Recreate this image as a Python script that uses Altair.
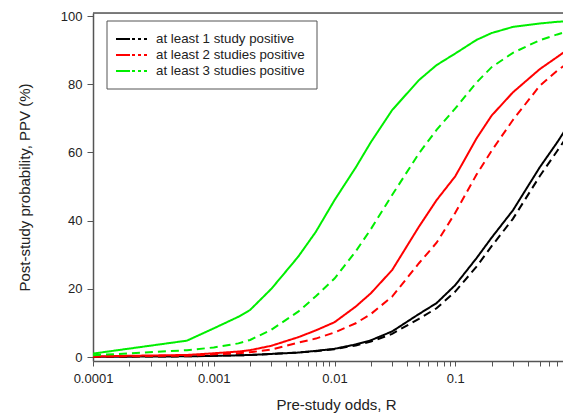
import altair as alt
import pandas as pd

# Pre-study odds (x) shared by all curves
R = [0.0001, 0.0006, 0.001, 0.0016, 0.002, 0.003, 0.005, 0.007, 0.01, 0.015,
     0.02, 0.03, 0.05, 0.07, 0.1, 0.15, 0.2, 0.3, 0.5, 0.7, 0.92]

# PPV (%)
one_solid = [0.05, 0.2, 0.35, 0.5, 0.6, 0.9, 1.3, 1.8, 2.4, 3.7,
             4.9, 7.5, 12.6, 15.8, 21.1, 29.0, 35.0, 43.0, 55.6, 63.0, 69.5]
one_dashed = [0.05, 0.2, 0.35, 0.5, 0.6, 0.9, 1.3, 1.7, 2.3, 3.4,
              4.5, 6.8, 11.2, 14.3, 19.2, 26.5, 32.5, 40.5, 53.0, 60.5, 66.5]
two_solid = [0.2, 0.6, 1.1, 1.6, 2.0, 3.3, 5.8, 7.8, 10.2, 14.8,
             18.7, 25.5, 38.2, 46.0, 53.0, 64.1, 70.8, 77.6, 84.4, 88.0, 91.0]
two_dashed = [0.1, 0.4, 0.8, 1.1, 1.4, 2.2, 4.2, 5.4, 7.2, 9.9,
              12.6, 17.7, 27.5, 33.5, 42.3, 53.5, 60.5, 69.5, 79.5, 84.0, 87.0]
three_solid = [1.0, 4.8, 8.4, 11.8, 13.8, 20.0, 29.4, 36.7, 46.0, 55.6,
               63.0, 72.4, 81.2, 85.6, 89.0, 93.0, 95.0, 96.8, 97.8, 98.3, 98.5]
three_dashed = [0.5, 2.0, 2.8, 4.0, 5.0, 8.0, 13.3, 17.8, 23.0, 31.0,
                37.5, 47.5, 59.7, 66.6, 72.9, 80.5, 85.0, 89.2, 92.9, 94.6, 95.8]

series_names = ["at least 1 study positive", "at least 2 studies positive",
                "at least 3 studies positive"]
series_colors = ["#000000", "#ff0000", "#00ee00"]

y_ticks = [0, 20, 40, 60, 80, 100]
x_major = [0.0001, 0.001, 0.01, 0.1]
x_ticks = [m * d for d in x_major for m in range(1, 10)]

rows = []
for name, style, vals in [
    (series_names[0], "solid", one_solid), (series_names[0], "dashed", one_dashed),
    (series_names[1], "solid", two_solid), (series_names[1], "dashed", two_dashed),
    (series_names[2], "solid", three_solid), (series_names[2], "dashed", three_dashed),
]:
    for r, v in zip(R, vals):
        rows.append({"R": r, "PPV": v, "series": name, "style": style,
                     "key": name + "|" + style})
df = pd.DataFrame(rows)

FONT = "Liberation Sans"
W, H = 470, 348

x_enc = alt.X(
    "R:Q",
    scale=alt.Scale(type="log", domain=[0.0001, 0.78], nice=False),
    axis=alt.Axis(
        values=x_ticks,
        format=".4~f",
        labelExpr="indexof([0.0001, 0.001, 0.01, 0.1], datum.value) >= 0 ? datum.label : ''",
        labelOverlap=False,
        labelFlush=False,
        grid=False,
        tickSize=5,
        tickColor="#555555",
        domainColor="#555555",
        domainWidth=1.5,
        labelFont=FONT,
        labelFontSize=13,
        labelColor="#222222",
        labelPadding=6,
        title="Pre-study odds, R",
        titleFont=FONT,
        titleFontSize=15,
        titleFontWeight="normal",
        titleColor="#222222",
        titleX=243,
        titleY=43,
        titleBaseline="middle",
    ),
)
y_enc = alt.Y(
    "PPV:Q",
    scale=alt.Scale(domain=[-1.17, 100.88], nice=False, zero=False),
    axis=alt.Axis(
        values=y_ticks,
        grid=False,
        tickSize=6,
        tickColor="#555555",
        domainColor="#555555",
        domainWidth=1.5,
        labelFont=FONT,
        labelFontSize=13,
        labelColor="#222222",
        labelPadding=5,
        title="Post-study probability, PPV (%)",
        titleFont=FONT,
        titleFontSize=15,
        titleFontWeight="normal",
        titleColor="#222222",
        titleX=-69,
        titleY=H / 2,
        titleAngle=-90,
        titleBaseline="middle",
        titleAlign="center",
    ),
)

lines = alt.Chart(df).mark_line(strokeWidth=2, clip=True).encode(
    x=x_enc,
    y=y_enc,
    color=alt.Color("series:N", scale=alt.Scale(domain=series_names, range=series_colors),
                    legend=None),
    strokeDash=alt.StrokeDash("style:N",
                              scale=alt.Scale(domain=["solid", "dashed"], range=[[1, 0], [8, 5]]),
                              legend=None),
    detail="key:N",
    order=alt.Order("R:Q"),
)

top_border = alt.Chart().mark_rule(color="#555555", strokeWidth=1.5).encode(
    x=alt.value(0), x2=alt.value(W), y=alt.value(0)
)

# hand-drawn legend box
layers = [lines, top_border]
layers.append(
    alt.Chart().mark_rect(fill="white", stroke="#555555", strokeWidth=1).encode(
        x=alt.value(14), x2=alt.value(224), y=alt.value(8), y2=alt.value(76)
    )
)
for i, (name, col) in enumerate(zip(series_names, series_colors)):
    yy = 26 + 16 * i
    layers.append(alt.Chart().mark_rule(color=col, strokeWidth=2).encode(
        x=alt.value(23), x2=alt.value(37), y=alt.value(yy)))
    layers.append(alt.Chart().mark_rule(color=col, strokeWidth=2, strokeDash=[3, 3]).encode(
        x=alt.value(39), x2=alt.value(56), y=alt.value(yy)))
    layers.append(alt.Chart().mark_text(text=name, align="left", baseline="middle",
                                        font=FONT, fontSize=13.3, color="#222222").encode(
        x=alt.value(63), y=alt.value(yy)))

chart = alt.layer(*layers).properties(
    width=W, height=H,
    autosize=alt.AutoSizeParams(type="none"),
    padding={"left": 85, "top": 5, "right": 0, "bottom": 52},
).configure_view(stroke=None).configure(background="white")

chart.save("out.html", embed_options={"renderer": "svg", "actions": False})
